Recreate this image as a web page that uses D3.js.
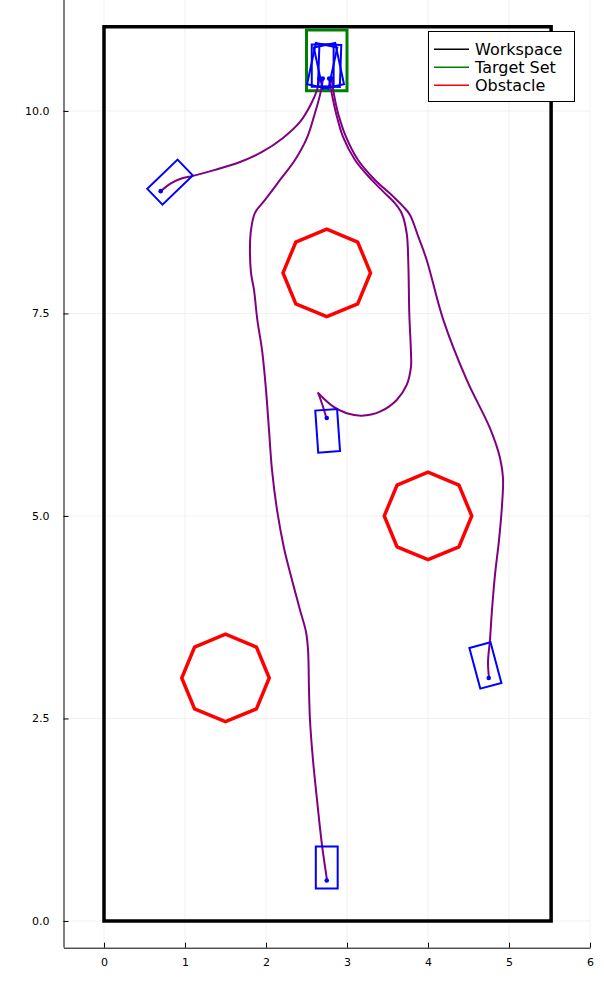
<!DOCTYPE html>
<html>
<head>
<meta charset="utf-8">
<script src="https://cdn.jsdelivr.net/npm/d3@7"></script>
<style>
  html, body { margin: 0; padding: 0; background: #fff; }
  svg { display: block; }
  text { font-family: "DejaVu Sans", sans-serif; }
</style>
</head>
<body>
<div id="chart"></div>
<script>
// ---------------- data ----------------
const xTicks = [0, 1, 2, 3, 4, 5, 6];
const xTickLabels = ["0", "1", "2", "3", "4", "5", "6"];
const yTicks = [0, 2.5, 5, 7.5, 10];
const yTickLabels = ["0.0", "2.5", "5.0", "7.5", "10.0"];

const workspace = [[0, 0], [5.52, 0], [5.52, 11.04], [0, 11.04]];
const targetSet = [[2.5, 10.25], [3.0, 10.25], [3.0, 11.0], [2.5, 11.0]];
const obstacleCenters = [[2.75, 8.0], [4.0, 5.0], [1.5, 3.0]];
const obstacleRadius = 0.54;
const obstacleSides = 8;

// robot body (relative to reference dot): front, rear, half width
const robotFront = 0.42, robotRear = 0.10, robotHalfWidth = 0.135;

// poses: [x, y, heading in degrees]
const startPoses = [[2.75, 0.50, 90], [2.75, 6.21, -86], [0.70, 9.01, 44], [4.75, 3.00, 105]];
const endPoses   = [[2.70, 10.40, 90], [2.78, 10.40, 88], [2.66, 10.40, 78], [2.81, 10.40, 102]];

// trajectories (each robot: list of segments)
const traj1 = [[
  [2.753, 0.506], [2.691, 0.938], [2.630, 1.494], [2.580, 1.988], [2.543, 2.481],
  [2.531, 2.852], [2.519, 3.346], [2.494, 3.568], [2.420, 3.840], [2.321, 4.210],
  [2.222, 4.605], [2.136, 5.074], [2.074, 5.568], [2.037, 6.062], [2.000, 6.556],
  [1.951, 7.049], [1.893, 7.420], [1.852, 7.790], [1.815, 8.000], [1.802, 8.321],
  [1.815, 8.531], [1.864, 8.741], [1.988, 8.901], [2.173, 9.148], [2.358, 9.395],
  [2.506, 9.667], [2.605, 9.975], [2.667, 10.198], [2.704, 10.395]
]];
const traj2 = [
  [[2.749, 6.198], [2.700, 6.360], [2.646, 6.515]],
  [
    [2.646, 6.515], [2.831, 6.349], [2.996, 6.268], [3.181, 6.238], [3.407, 6.288],
    [3.614, 6.432], [3.737, 6.617], [3.790, 6.843], [3.790, 7.009], [3.769, 7.502],
    [3.757, 8.120], [3.737, 8.490], [3.675, 8.737], [3.593, 8.860], [3.448, 9.004],
    [3.305, 9.148], [3.099, 9.395], [2.951, 9.679], [2.864, 9.975], [2.815, 10.198],
    [2.778, 10.395]
  ]
];
const traj3 = [[
  [0.704, 9.012], [0.815, 9.099], [0.938, 9.160], [1.099, 9.198], [1.370, 9.272],
  [1.679, 9.370], [1.951, 9.494], [2.210, 9.667], [2.420, 9.864], [2.556, 10.086],
  [2.630, 10.259], [2.660, 10.401]
]];
const traj4 = [[
  [4.753, 3.000], [4.741, 3.198], [4.765, 3.469], [4.790, 3.840], [4.827, 4.272],
  [4.877, 4.704], [4.914, 5.136], [4.926, 5.469], [4.889, 5.716], [4.765, 6.083],
  [4.478, 6.679], [4.189, 7.420], [3.984, 8.160], [3.880, 8.448], [3.778, 8.716],
  [3.695, 8.819], [3.572, 8.942], [3.346, 9.148], [3.136, 9.395], [2.988, 9.679],
  [2.889, 9.975], [2.840, 10.198], [2.809, 10.401]
]];
const trajectories = [traj1, traj2, traj3, traj4];

const legendLabels = ["Workspace", "Target Set", "Obstacle"];
const legendColors = ["#000000", "#008000", "#ff0000"];

// ---------------- drawing ----------------
const W = 604, H = 999;
const svg = d3.select("#chart").append("svg").attr("width", W).attr("height", H);

const x = d3.scaleLinear().domain([-0.5, 6.0]).range([63.5, 590]);
const y = d3.scaleLinear().domain([-0.33, 11.33]).range([947.7, 3.2]);

// grid
const grid = svg.append("g").attr("stroke", "#000").attr("stroke-opacity", 0.1).attr("stroke-width", 0.6);
grid.selectAll(".gx").data(xTicks).enter().append("line")
  .attr("x1", d => x(d)).attr("x2", d => x(d)).attr("y1", y.range()[0]).attr("y2", 0);
grid.selectAll(".gy").data(yTicks).enter().append("line")
  .attr("y1", d => y(d)).attr("y2", d => y(d)).attr("x1", x.range()[0]).attr("x2", x.range()[1]);

// axes
const xAxis = d3.axisBottom(x).tickValues(xTicks).tickFormat((d, i) => xTickLabels[i])
  .tickSizeInner(-5).tickSizeOuter(0).tickPadding(11);
const yAxis = d3.axisLeft(y).tickValues(yTicks).tickFormat((d, i) => yTickLabels[i])
  .tickSizeInner(-5).tickSizeOuter(0).tickPadding(14);

const gx = svg.append("g").attr("transform", `translate(0,${y.range()[0]})`).call(xAxis);
const gy = svg.append("g").attr("transform", `translate(${x.range()[0]},0)`).call(yAxis);
[gx, gy].forEach(g => {
  g.selectAll("text").attr("font-family", "DejaVu Sans").attr("font-size", 11).attr("fill", "#000");
  g.selectAll("line").attr("stroke", "#000").attr("stroke-width", 1);
  g.select(".domain").attr("stroke", "#000").attr("stroke-width", 1);
});
gy.select(".domain").attr("d", `M0.5,${y.range()[0]}V0`);

const poly = pts => "M" + pts.map(p => `${x(p[0])},${y(p[1])}`).join("L") + "Z";

// workspace
svg.append("path").attr("d", poly(workspace)).attr("fill", "none")
  .attr("stroke", "#000").attr("stroke-width", 3.5).attr("stroke-linejoin", "miter");

// target set
svg.append("path").attr("d", poly(targetSet)).attr("fill", "none")
  .attr("stroke", "#008000").attr("stroke-width", 3).attr("stroke-linejoin", "miter");

// obstacles
obstacleCenters.forEach(c => {
  const pts = d3.range(obstacleSides).map(k => {
    const a = 2 * Math.PI * k / obstacleSides;
    return [c[0] + obstacleRadius * Math.cos(a), c[1] + obstacleRadius * Math.sin(a)];
  });
  svg.append("path").attr("d", poly(pts)).attr("fill", "none")
    .attr("stroke", "#ff0000").attr("stroke-width", 3.5).attr("stroke-linejoin", "miter");
});

// trajectories
const line = d3.line().x(d => x(d[0])).y(d => y(d[1])).curve(d3.curveCatmullRom.alpha(0.5));
trajectories.forEach(tr => tr.forEach(seg => {
  svg.append("path").attr("d", line(seg)).attr("fill", "none")
    .attr("stroke", "#800080").attr("stroke-width", 2).attr("stroke-linecap", "round");
}));

// robots
function robotCorners(p) {
  const h = p[2] * Math.PI / 180;
  const c = Math.cos(h), s = Math.sin(h);
  const local = [[robotFront, robotHalfWidth], [robotFront, -robotHalfWidth],
                 [-robotRear, -robotHalfWidth], [-robotRear, robotHalfWidth]];
  return local.map(q => [p[0] + q[0] * c - q[1] * s, p[1] + q[0] * s + q[1] * c]);
}
startPoses.concat(endPoses).forEach(p => {
  svg.append("path").attr("d", poly(robotCorners(p))).attr("fill", "none")
    .attr("stroke", "#0000ff").attr("stroke-width", 2).attr("stroke-linejoin", "miter");
  svg.append("circle").attr("cx", x(p[0])).attr("cy", y(p[1])).attr("r", 2.3).attr("fill", "#0000ff");
});

// legend
const lg = svg.append("g");
lg.append("rect").attr("x", 428.5).attr("y", 31.5).attr("width", 146).attr("height", 70)
  .attr("fill", "#fff").attr("stroke", "#000").attr("stroke-width", 1);
legendLabels.forEach((lab, i) => {
  const yy = 49.3 + i * 18;
  lg.append("line").attr("x1", 434).attr("x2", 469).attr("y1", yy).attr("y2", yy)
    .attr("stroke", legendColors[i]).attr("stroke-width", 1.5);
  lg.append("text").attr("x", 475).attr("y", yy + 5.7).text(lab)
    .attr("font-family", "DejaVu Sans").attr("font-size", 16).attr("fill", "#000");
});
</script>
</body>
</html>
